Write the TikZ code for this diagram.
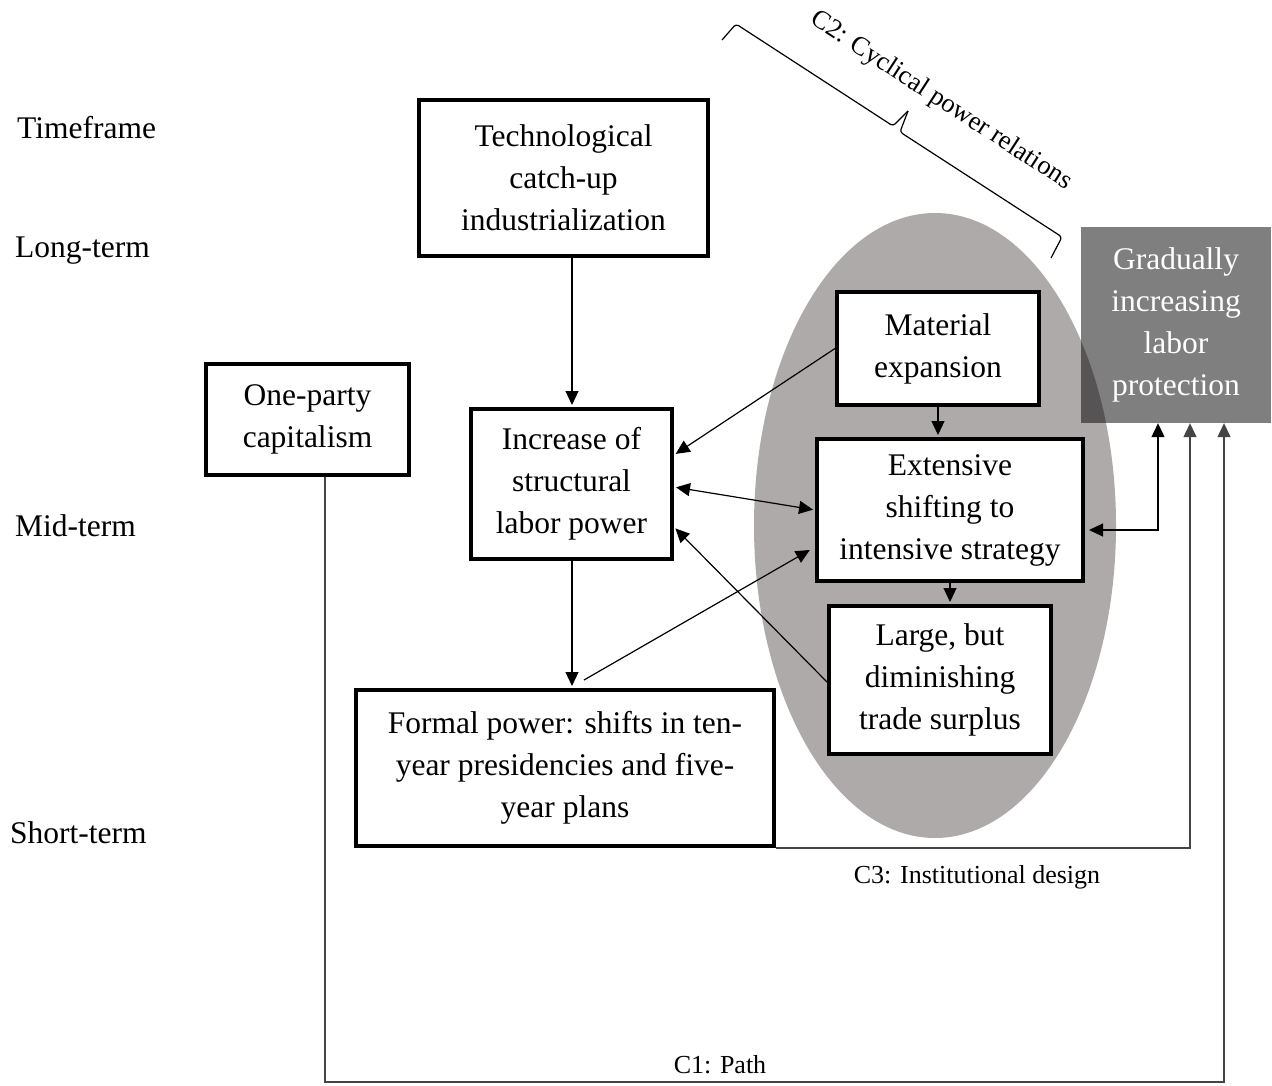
\documentclass[tikz,border=0pt]{standalone}
\usepackage{fontspec}
\setmainfont{Liberation Serif}
\usetikzlibrary{arrows.meta,calc}
\definecolor{ellgray}{HTML}{AEAAAA}
\definecolor{linegray}{HTML}{454545}
\begin{document}
\begin{tikzpicture}[x=1pt,y=-1pt,
  bigfont/.style={font=\fontsize{31.5}{42}\selectfont},
  box/.style={draw,line width=4pt,fill=white,align=center,inner sep=0pt,bigfont},
  lbl/.style={anchor=west,inner sep=0pt,bigfont},
  arr/.style={line width=1.2pt,-{Triangle[length=14pt,width=13pt]},shorten >=2pt},
  darr/.style={line width=1.2pt,{Triangle[length=14pt,width=13pt]}-{Triangle[length=14pt,width=13pt]},shorten >=2pt,shorten <=2pt},
  garr/.style={line width=1.2pt,draw=linegray,-{Triangle[length=14pt,width=13pt]}},
  small/.style={inner sep=0pt,font=\fontsize{26}{30}\selectfont}]
\useasboundingbox (0,0) rectangle (1272,1086);
\fill[white] (0,0) rectangle (1272,1086);

% ellipse (C2 cluster)
\fill[ellgray] (935,525.5) ellipse [x radius=181, y radius=312.5];

% timeframe labels
\node[lbl] (tf) at (17,128) {Timeframe};
\node[lbl] (lt) at (15,251) {Long-term};
\node[lbl] (mt) at (15,526) {Mid-term};
\node[lbl] (st) at (10,833) {Short-term};

% boxes
\node[box,minimum width=289,minimum height=156] (tech) at (563.5,178) {Technological\\catch-up\\industrialization};
\node[box,minimum width=203,minimum height=111] (one) at (307.5,419.5) {One-party\\capitalism};
\node[box,minimum width=201,minimum height=150] (inc) at (571.5,484) {Increase of\\structural\\labor power};
\node[box,minimum width=418,minimum height=156] (formal) at (565,768) {Formal power: shifts in ten-\\year presidencies and five-\\year plans};
\node[box,minimum width=202,minimum height=113] (mat) at (938,348.5) {Material\\expansion};
\node[box,minimum width=266,minimum height=142] (ext) at (950,510) {Extensive\\shifting to\\intensive strategy};
\node[box,minimum width=222,minimum height=148] (large) at (940,680) {Large, but\\diminishing\\trade surplus};
\node[fill=black,fill opacity=0.5,text opacity=1,text=white,align=center,inner sep=0pt,bigfont,minimum width=190,minimum height=196] (grad) at (1176,325) {Gradually\\increasing\\labor\\protection};

% arrows
\draw[arr] (tech.south -| 572,0) -- (inc.north -| 572,0);
\draw[arr] (inc.south -| 572,0) -- (formal.north -| 572,0);
\draw[arr] (mat.west) -- ([yshift=29pt]inc.east);
\draw[darr] ([yshift=-3pt]inc.east) -- (ext.west);
\draw[arr,shorten >=6pt] ([xshift=19pt,yshift=8pt]formal.north) -- ([yshift=-37pt]ext.west);
\draw[arr] ([yshift=-2pt]large.west) -- ([yshift=-43pt]inc.east);
\draw[arr] (mat.south) -- (mat.south |- ext.north);
\draw[arr] (ext.south) -- (ext.south |- large.north);
\draw[darr,shorten <=4pt,shorten >=0pt] ([yshift=-20pt]ext.east) -| ([xshift=-18pt]grad.south);

% C3: institutional design
\draw[garr] (formal.south east) -| ([xshift=14pt]grad.south);
\node[small] (c3) at (977,877) {C3: Institutional design};

% C1: path
\coordinate (c1) at (325,1082);
\draw[garr] (one.south -| c1) -- (c1) -| ([xshift=48pt]grad.south);
\node[small] (c1l) at (720,1065) {C1: Path};

% C2: brace
\draw[line width=1.2pt,rounded corners=3pt] (722,40) -- (736,24) -- (893,126) -- (908,111);
\draw[line width=1.2pt,rounded corners=3pt] (908,111) -- (900,132) -- (1062,237) -- (1051,258);
\node[inner sep=0pt,font=\fontsize{26.5}{30}\selectfont,rotate=-33] (c2) at (941,101) {C2: Cyclical power relations};
\end{tikzpicture}
\end{document}
